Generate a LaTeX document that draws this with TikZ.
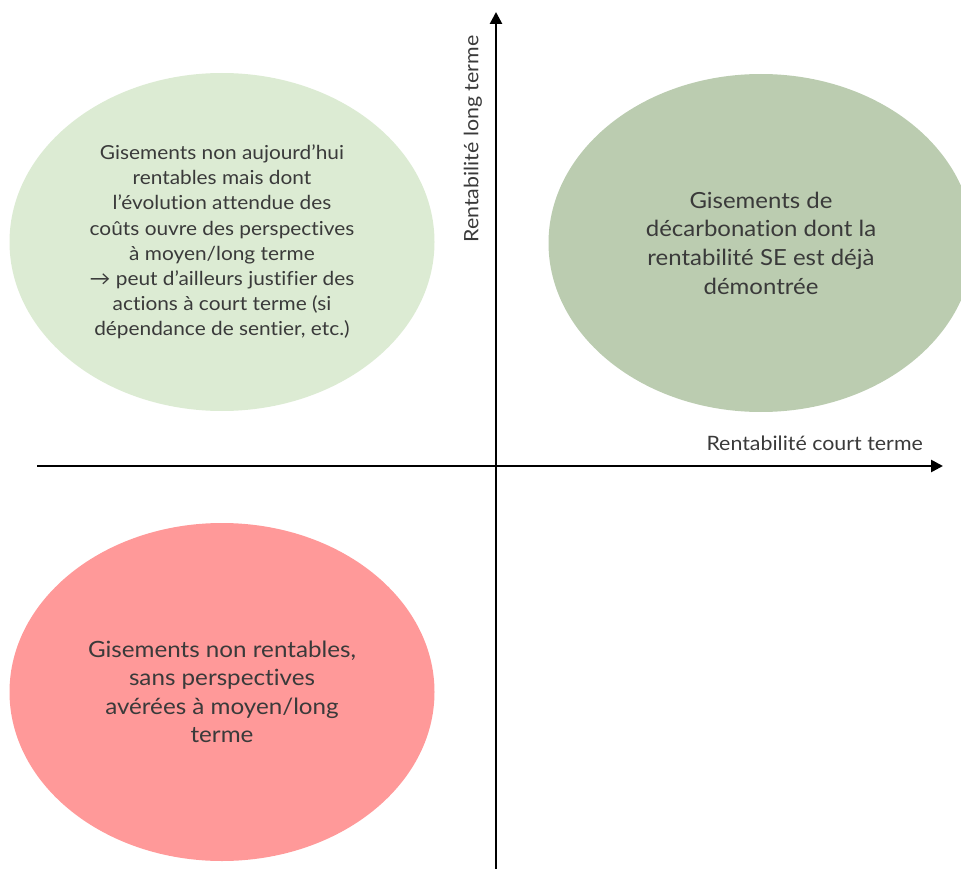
\documentclass[tikz,border=0pt]{standalone}
\usepackage{fontspec}
\setmainfont[Ligatures=NoCommon, FakeStretch=1.08]{Lato}
\usetikzlibrary{shapes.geometric,arrows.meta}
\definecolor{txt}{HTML}{3A3A3A}
\definecolor{lightgreen}{HTML}{DCEBD3}
\definecolor{sage}{HTML}{BBCCB0}
\definecolor{salmon}{HTML}{FF9999}
\tikzset{
  zone/.style={ellipse, draw=none, minimum width=425pt, minimum height=338pt,
    inner sep=0pt, align=center, text=txt},
  axis/.style={line width=2.6pt, -{Triangle[length=12pt,width=12pt]}},
  axislabel/.style={text=txt, font=\fontsize{19.8}{22}\selectfont, inner sep=0pt}
}
\begin{document}
\begin{tikzpicture}[x=1pt,y=-1pt]
\useasboundingbox (0,0) rectangle (961,869);
\begin{scope}
\clip (0,0) rectangle (961,869);
% quadrant zones
\node[zone, fill=lightgreen, font=\fontsize{19.3}{25.2}\selectfont] (longterm) at (222,242)
  {Gisements non aujourd’hui\\rentables mais dont\\l’évolution attendue des\\coûts ouvre des perspectives\\à moyen/long terme\\→ peut d’ailleurs justifier des\\actions à court terme (si\\dépendance de sentier, etc.)};
\node[zone, fill=sage, font=\fontsize{22.2}{28.7}\selectfont] (proven) at (761,243)
  {Gisements de\\décarbonation dont la\\rentabilité SE est déjà\\démontrée};
\node[zone, fill=salmon, font=\fontsize{22.4}{28.5}\selectfont] (none) at (222,692)
  {Gisements non rentables,\\sans perspectives\\avérées à moyen/long\\terme};
\end{scope}
% axes
\coordinate (xs) at (37,466);
\coordinate (xe) at (943,466);
\coordinate (ys) at (496,869);
\coordinate (ye) at (496,12);
\draw[axis] (xs) -- (xe);
\draw[axis] (ys) -- (ye);
\node[axislabel, anchor=east] (xlabel) at (923,443) {Rentabilité court terme};
\node[axislabel, rotate=90] (ylabel) at (473,139) {Rentabilité long terme};
\end{tikzpicture}
\end{document}
